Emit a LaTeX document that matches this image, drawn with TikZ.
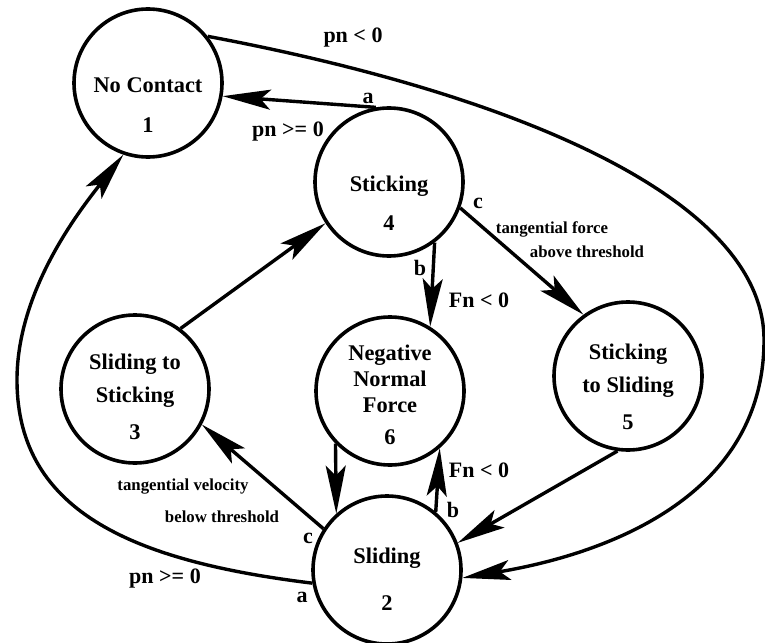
\documentclass[tikz,border=0pt]{standalone}
\usepackage{fontspec}
\setmainfont{Liberation Serif}
\usetikzlibrary{arrows.meta}
\tikzstyle{state} = [draw, circle, line width=1.8pt, minimum size=74pt,
inner sep=0pt]
\tikzstyle{stext} = [align=center, inner sep=0pt,
font=\fontsize{11.2}{13}\selectfont\bfseries]
\tikzstyle{lbl} = [inner sep=0pt, font=\fontsize{11}{13}\selectfont\bfseries]
\tikzstyle{note} = [inner sep=0pt, font=\fontsize{8.4}{10}\selectfont\bfseries]
\tikzstyle{line} = [draw, line width=1.7pt,
-{Stealth[length=24pt,width=10pt,inset=5pt]}]

\begin{document}
\begin{tikzpicture}[x=0.5pt, y=-0.5pt]
    \useasboundingbox (0,0) rectangle (765,642);
    %% States
    \node[state] (s1) at (148,83) {};
    \node[state] (s4) at (389,182) {};
    \node[state] (s3) at (135,389) {};
    \node[state] (s6) at (390,391) {};
    \node[state] (s5) at (628,376) {};
    \node[state] (s2) at (387,570) {};
    \node[stext] (t1) at (148,105) {No Contact\\[7pt]1};
    \node[stext] (t4) at (389,203) {Sticking\\[6.5pt]4};
    \node[stext] (t3) at (135,397) {Sliding to\\[3.5pt]Sticking\\[5.5pt]3};
    \node[stext] (t6) at (390,395) {Negative\\Normal\\Force\\[3pt]6};
    \node[stext] (t5) at (628,387) {Sticking\\[3.5pt]to Sliding\\[5.5pt]5};
    \node[stext] (t2) at (387,579) {Sliding\\[10.5pt]2};
    %% Transitions
    \path [line] (s4.100) -- (s1.-10);
    \path [line] (s1.38) .. controls (520,95) and (764,200) .. (764,340)
        .. controls (764,500) and (600,555) .. (s2.-6);
    \path [line] (s2.-170) .. controls (140,562) and (17,515) .. (17,380)
        .. controls (17,290) and (80,210) .. (s1.-109);
    \path [line] (s3.53) -- (s4.-147);
    \path [line] (s4.-53) -- (s6.58);
    \path [line] (s4.-20) -- (s5.126);
    \path [line] (s6.-136) -- (s2.132);
    \path [line] (s2.50) -- (s6.-49);
    \path [line] (s2.147) -- (s3.-28);
    \path [line] (s5.-98) -- (s2.21);
    %% Conditions
    \node[lbl] (pnneg) at (353,38) {pn < 0};
    \node[lbl] (a4) at (368,98) {a};
    \node[lbl] (pnpos4) at (288,132) {pn >= 0};
    \node[lbl] (b4) at (420,268) {b};
    \node[lbl] (fnneg4) at (479,300) {Fn < 0};
    \node[lbl] (c4) at (478,203) {c};
    \node[note] (tforce) at (552,229) {tangential force};
    \node[note] (tforce2) at (587,252) {above threshold};
    \node[lbl] (b2) at (453,510) {b};
    \node[lbl] (fnneg2) at (479,470) {Fn < 0};
    \node[lbl] (c2) at (308,538) {c};
    \node[note] (tvel) at (183,487) {tangential velocity};
    \node[note] (tvel2) at (222,517) {below threshold};
    \node[lbl] (a2) at (302,597) {a};
    \node[lbl] (pnpos2) at (165,579) {pn >= 0};
\end{tikzpicture}
\end{document}
